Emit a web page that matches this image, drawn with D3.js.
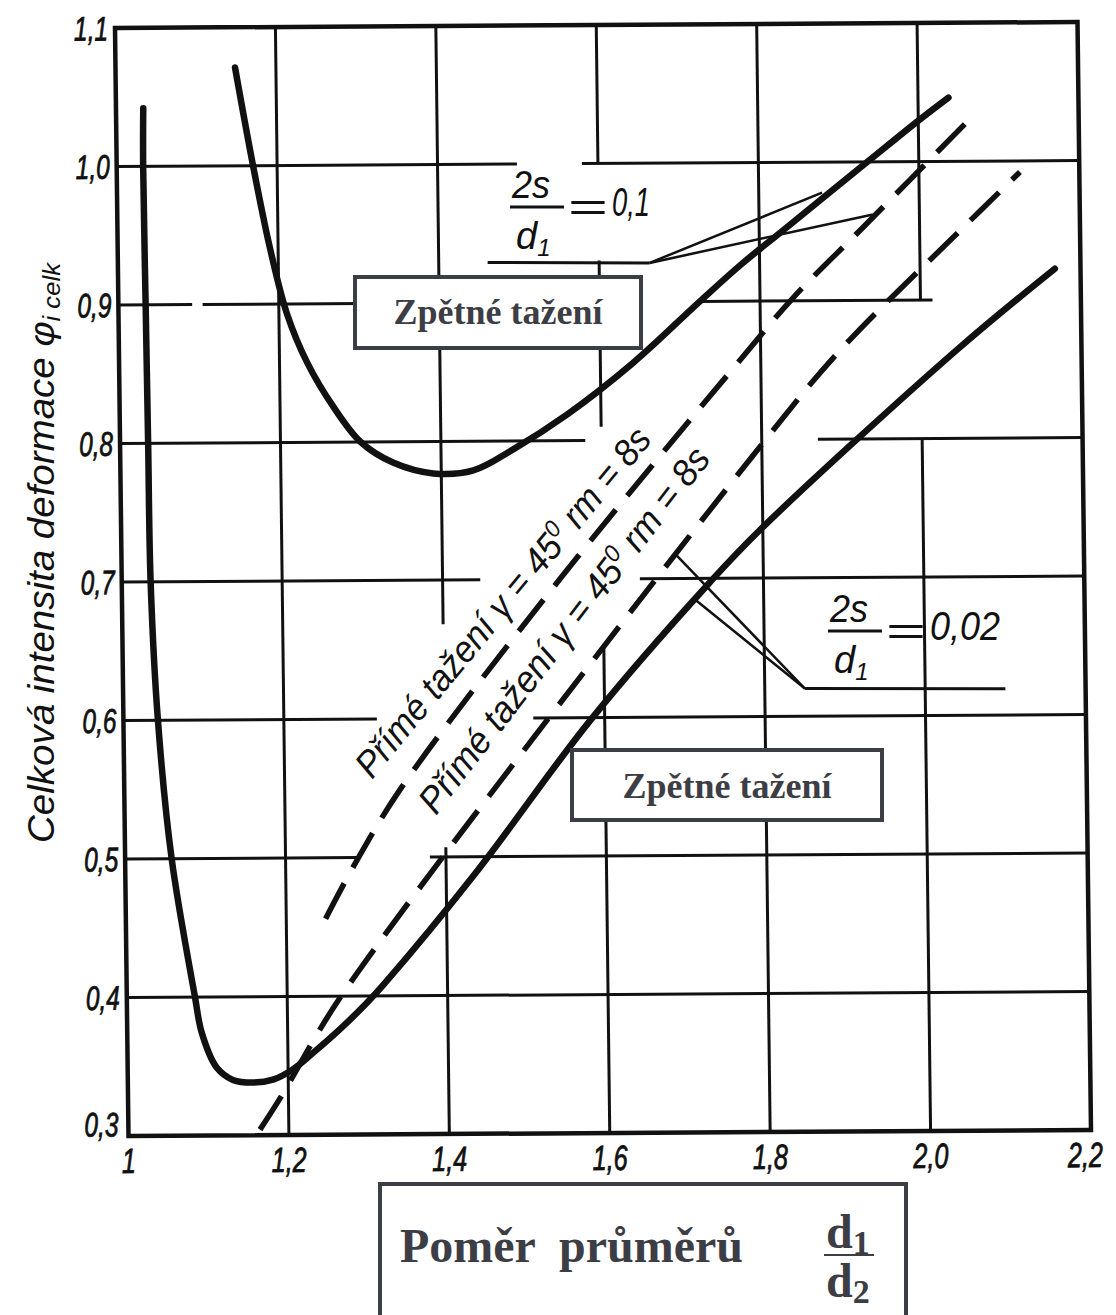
<!DOCTYPE html>
<html>
<head>
<meta charset="utf-8">
<script src="https://cdn.jsdelivr.net/npm/d3@7"></script>
<style>
  body { margin: 0; background: #fff; }
  svg { display: block; }
</style>
</head>
<body>
<svg id="chart" width="1116" height="1315"></svg>
<script>
// ticks
var xTicks = [1, 1.2, 1.4, 1.6, 1.8, 2.0, 2.2];
var yTicks = [0.3, 0.4, 0.5, 0.6, 0.7, 0.8, 0.9, 1.0, 1.1];

// grid pieces as drawn in the scan: [value, [from, to], ...]
var vGrid = [
  [1.2, [0.3, 1.1]],
  [1.4, [0.668, 1.1], [0.3, 0.507]],
  [1.6, [1.0, 1.1], [0.81, 0.93], [0.3, 0.651]],
  [1.8, [0.3, 1.1]],
  [2.0, [0.9, 1.1], [0.3, 0.8]]
];
var hGrid = [
  [1.0, [1, 1.499], [1.580, 2.2]],
  [0.9, [1, 1.092], [1.105, 1.35], [1.725, 2.015]],
  [0.8, [1, 1.580], [1.870, 2.2]],
  [0.7, [1, 1.447], [1.646, 2.2]],
  [0.6, [1, 1.316], [1.511, 2.2]],
  [0.5, [1, 1.289], [1.38, 2.2]],
  [0.4, [1, 2.2]]
];

// Zpětné tažení, 2s/d1 = 0,02
var back002 = [[1.034,1.042],[1.033,1.0],[1.034,0.9],[1.035,0.8],[1.036,0.7],[1.043,0.6],
  [1.058,0.5],[1.085,0.4],[1.093,0.374],[1.111,0.349],[1.131,0.340],[1.156,0.338],
  [1.181,0.340],[1.205,0.347],[1.231,0.359],[1.265,0.376],[1.299,0.395],[1.320,0.408],
  [1.439,0.490],[1.582,0.598],[1.733,0.697],[1.797,0.735],[2.045,0.864],[2.168,0.922]];
// Zpětné tažení, 2s/d1 = 0,1
var back01 = [[1.149,1.071],[1.170,1.0],[1.190,0.940],[1.210,0.893],[1.235,0.857],[1.266,0.826],
  [1.300,0.800],[1.340,0.785],[1.390,0.777],[1.440,0.779],[1.490,0.794],[1.558,0.819],
  [1.641,0.856],[1.725,0.900],[1.776,0.926],[1.830,0.951],[1.936,1.000],[1.999,1.029],[2.038,1.046]];
// Přímé tažení, 2s/d1 = 0,1
var direct01 = [[1.249,0.456],[1.284,0.493],[1.344,0.549],[1.546,0.700],[1.778,0.860],
  [1.841,0.902],[1.930,0.953],[2.067,1.032]];
// Přímé tažení, 2s/d1 = 0,02
var direct002 = [[1.164,0.304],[1.190,0.327],[1.237,0.373],[1.266,0.399],[1.384,0.491],
  [1.798,0.795],[1.899,0.864],[2.047,0.948],[2.126,0.992]];

// leader lines of the two 2s/d1 labels: shelf, then branch ends
var leader01 = [[1.461,0.929],[1.663,0.928]];
var leader01Ends = [[1.879,0.978],[1.942,0.962]];
var leader002 = [[2.100,0.619],[1.850,0.620]];
var leader002Ends = [[1.690,0.718],[1.714,0.685]];

var W = 962.5, H = 1108;
var ink = '#111';
var scanFont = "'Liberation Sans Narrow', 'Liberation Sans', Arial, sans-serif";
var boxFont = "'Liberation Serif', 'Times New Roman', serif";

var x = d3.scaleLinear().domain([1, 2.2]).range([0, W]);
var y = d3.scaleLinear().domain([0.3, 1.1]).range([H, 0]);

var svg = d3.select('#chart');
svg.append('rect').attr('width', 1116).attr('height', 1315).attr('fill', '#fff');

// the scanned sheet is a bit skewed
var g = svg.append('g').attr('transform', 'matrix(1,-0.00623,0.01218,1,115,28)');

// squeeze text to a narrow look
function narrow(sel, k) {
  sel.each(function() {
    var w = this.getComputedTextLength();
    d3.select(this).attr('textLength', w * k).attr('lengthAdjust', 'spacingAndGlyphs');
  });
}

// grid
var segs = [];
vGrid.forEach(function(r) {
  r.slice(1).forEach(function(s) { segs.push({x1: x(r[0]), x2: x(r[0]), y1: y(s[0]), y2: y(s[1])}); });
});
hGrid.forEach(function(r) {
  r.slice(1).forEach(function(s) { segs.push({x1: x(s[0]), x2: x(s[1]), y1: y(r[0]), y2: y(r[0])}); });
});
g.append('g').selectAll('line').data(segs).enter().append('line')
  .attr('x1', d => d.x1).attr('x2', d => d.x2).attr('y1', d => d.y1).attr('y2', d => d.y2)
  .attr('stroke', ink).attr('stroke-width', 3);

g.append('rect').attr('x', x(1)).attr('y', y(1.1))
  .attr('width', x(2.2) - x(1)).attr('height', y(0.3) - y(1.1))
  .attr('fill', 'none').attr('stroke', ink).attr('stroke-width', 4.5);

// tick labels
var comma = d => d3.format('.1f')(d).replace('.', ',');
g.append('g').selectAll('text').data(yTicks).enter().append('text')
  .attr('x', d => d === 0.3 ? -10 : -7).attr('y', d => y(d) - (d === 0.3 ? 12 : 0)).attr('dy', '0.36em')
  .attr('text-anchor', 'end')
  .style('font-family', scanFont).style('font-style', 'italic').style('font-size', '34px')
  .attr('fill', ink).attr('stroke', ink).attr('stroke-width', 0.8)
  .text(comma)
  .call(narrow, 0.72);

g.append('g').selectAll('text').data(xTicks).enter().append('text')
  .attr('x', d => x(d) + (d === 2.2 ? -6 : 0)).attr('y', H + 37)
  .attr('text-anchor', 'middle')
  .style('font-family', scanFont).style('font-style', 'italic').style('font-size', '35px')
  .attr('fill', ink).attr('stroke', ink).attr('stroke-width', 0.8)
  .text(d => d === 1 ? '1' : comma(d))
  .call(narrow, 0.72);

// curves
var line = d3.line().x(d => x(d[0])).y(d => y(d[1])).curve(d3.curveCatmullRom.alpha(0.5));
[back002, back01].forEach(function(c) {
  g.append('path').attr('d', line(c)).attr('fill', 'none')
    .attr('stroke', ink).attr('stroke-width', 6.5).attr('stroke-linecap', 'round');
});
[direct01, direct002].forEach(function(c) {
  g.append('path').attr('d', line(c)).attr('fill', 'none')
    .attr('stroke', ink).attr('stroke-width', 5.5).attr('stroke-dasharray', '40,18');
});

// leaders
var straight = d3.line().x(d => x(d[0])).y(d => y(d[1]));
[[leader01, leader01Ends], [leader002, leader002Ends]].forEach(function(l) {
  g.append('path').attr('d', straight(l[0])).attr('fill', 'none')
    .attr('stroke', ink).attr('stroke-width', 3);
  l[1].forEach(function(e) {
    g.append('path').attr('d', straight([l[0][1], e])).attr('fill', 'none')
      .attr('stroke', ink).attr('stroke-width', 2.5);
  });
});

// fraction labels 2s/d1
function fraction(x0, yTop, value, valueLen) {
  var f = svg.append('g').attr('fill', ink)
    .style('font-family', scanFont).style('font-style', 'italic');
  f.append('text').attr('x', x0 + 2).attr('y', yTop).style('font-size', '38px')
    .attr('textLength', 38).attr('lengthAdjust', 'spacingAndGlyphs').text('2s');
  f.append('line').attr('x1', x0).attr('x2', x0 + 54).attr('y1', yTop + 9).attr('y2', yTop + 9)
    .attr('stroke', ink).attr('stroke-width', 3);
  var d = f.append('text').attr('x', x0 + 6).attr('y', yTop + 51).style('font-size', '38px');
  d.append('tspan').text('d');
  d.append('tspan').attr('dy', 7).style('font-size', '24px').text('1');
  f.append('text').attr('x', x0 + 57).attr('y', yTop + 23).style('font-size', '40px')
    .attr('textLength', 40).attr('lengthAdjust', 'spacingAndGlyphs').text('=');
  f.append('text').attr('x', x0 + 102).attr('y', yTop + 18).style('font-size', '40px')
    .attr('textLength', valueLen).attr('lengthAdjust', 'spacingAndGlyphs').text(value);
}
fraction(510, 198, '0,1', 38);
fraction(828, 622, '0,02', 70);

// sloped labels along the dashed lines
function slopeLabel(px, py, angle, len) {
  var t = svg.append('text')
    .attr('transform', 'translate(' + px + ',' + py + ') rotate(' + angle + ')')
    .attr('fill', ink).style('font-family', scanFont).style('font-style', 'italic')
    .style('font-size', '37px')
    .attr('textLength', len).attr('lengthAdjust', 'spacingAndGlyphs');
  t.append('tspan').text('Přímé tažení γ = 45');
  t.append('tspan').attr('dy', -13).style('font-size', '24px').text('0');
  t.append('tspan').attr('dy', 13).text(' rm = 8s');
}
slopeLabel(372, 780, -50.4, 441);
slopeLabel(436, 816, -52.3, 451);

// y axis title
var yt = svg.append('text')
  .attr('transform', 'translate(54,843) rotate(-90)')
  .attr('fill', ink).style('font-family', scanFont).style('font-style', 'italic')
  .style('font-size', '36px')
  .attr('textLength', 580).attr('lengthAdjust', 'spacingAndGlyphs');
yt.append('tspan').text('Celková intensita deformace  φ');
yt.append('tspan').attr('dy', 6).style('font-size', '24px').text('i celk');

// boxed labels
var boxInk = '#3d3d45';
function box(bx, by, bw, bh) {
  svg.append('rect').attr('x', bx).attr('y', by).attr('width', bw).attr('height', bh)
    .attr('fill', '#fff').attr('stroke', boxInk).attr('stroke-width', 4);
}
function boxText(tx, ty, size, txt, anchor) {
  return svg.append('text').attr('x', tx).attr('y', ty).attr('text-anchor', anchor || 'middle')
    .attr('fill', boxInk).style('font-family', boxFont).style('font-weight', 'bold')
    .style('font-size', size + 'px').style('white-space', 'pre').text(txt);
}
box(355, 277, 286, 71);
boxText(498, 324, 36, 'Zpětné tažení');
box(572, 750, 310, 70);
boxText(727, 798, 36, 'Zpětné tažení');

box(380, 1184, 526, 200);
boxText(400, 1262, 48, 'Poměr  průměrů', 'start');
var num = boxText(826, 1248, 48, 'd', 'start');
num.append('tspan').attr('dy', 6).style('font-size', '34px').text('1');
svg.append('line').attr('x1', 824).attr('x2', 874).attr('y1', 1255).attr('y2', 1255)
  .attr('stroke', boxInk).attr('stroke-width', 2);
var den = boxText(826, 1297, 48, 'd', 'start');
den.append('tspan').attr('dy', 6).style('font-size', '34px').text('2');
</script>
</body>
</html>
